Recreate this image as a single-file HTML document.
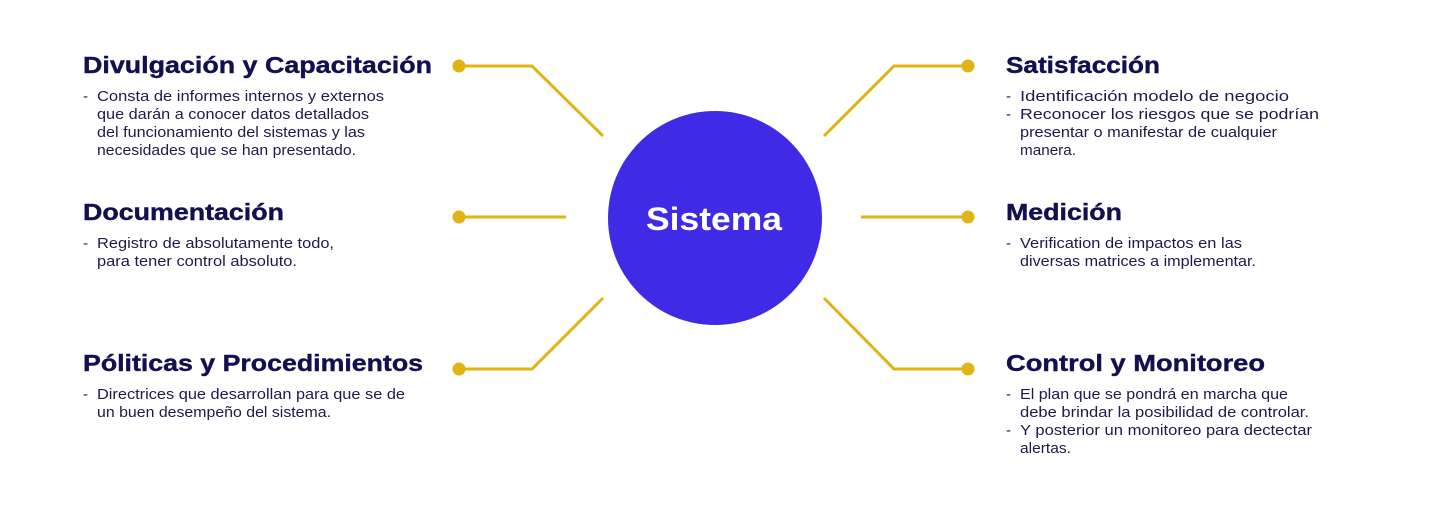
<!DOCTYPE html>
<html><head><meta charset="utf-8"><style>
html,body{margin:0;padding:0;background:#fff;}
svg{display:block}
.t{font-family:"Liberation Sans",sans-serif;font-weight:bold;font-size:23px;fill:#12104f;stroke:#12104f;stroke-width:0.4}
.b{font-family:"Liberation Sans",sans-serif;font-size:15px;fill:#1c1b4a}
</style></head><body>
<svg width="1444" height="512" viewBox="0 0 1444 512" xmlns="http://www.w3.org/2000/svg">
<g stroke="#e0b412" stroke-width="3" fill="none">
<polyline points="459,66 532,66 603,136"/>
<polyline points="459,217 566,217"/>
<polyline points="459,369 532,369 603,298"/>
<polyline points="968,66 894,66 824,136"/>
<polyline points="861,217 968,217"/>
<polyline points="824,298 894,369 968,369"/>
</g>
<g fill="#e0b412">
<circle cx="459" cy="66" r="6.5"/><circle cx="459" cy="217" r="6.5"/><circle cx="459" cy="369" r="6.5"/>
<circle cx="968" cy="66" r="6.5"/><circle cx="968" cy="217" r="6.5"/><circle cx="968" cy="369" r="6.5"/>
</g>
<circle cx="715" cy="218" r="107" fill="#3f2be6"/>
<text x="714" y="230" text-anchor="middle" font-family="Liberation Sans,sans-serif" font-weight="bold" font-size="32" fill="#fff" textLength="136" lengthAdjust="spacingAndGlyphs">Sistema</text>

<text class="t" x="83" y="73" textLength="349" lengthAdjust="spacingAndGlyphs">Divulgación y Capacitación</text>
<text class="b" x="83" y="101">-</text>
<text class="b" x="97" y="101" textLength="287" lengthAdjust="spacingAndGlyphs">Consta de informes internos y externos</text>
<text class="b" x="97" y="119" textLength="272" lengthAdjust="spacingAndGlyphs">que darán a conocer datos detallados</text>
<text class="b" x="97" y="137" textLength="268" lengthAdjust="spacingAndGlyphs">del funcionamiento del sistemas y las</text>
<text class="b" x="97" y="155" textLength="259" lengthAdjust="spacingAndGlyphs">necesidades que se han presentado.</text>

<text class="t" x="83" y="220" textLength="201" lengthAdjust="spacingAndGlyphs">Documentación</text>
<text class="b" x="83" y="248">-</text>
<text class="b" x="97" y="248" textLength="237" lengthAdjust="spacingAndGlyphs">Registro de absolutamente todo,</text>
<text class="b" x="97" y="266" textLength="200" lengthAdjust="spacingAndGlyphs">para tener control absoluto.</text>

<text class="t" x="83" y="371" textLength="340" lengthAdjust="spacingAndGlyphs">Póliticas y Procedimientos</text>
<text class="b" x="83" y="399">-</text>
<text class="b" x="97" y="399" textLength="308" lengthAdjust="spacingAndGlyphs">Directrices que desarrollan  para que se de</text>
<text class="b" x="97" y="417" textLength="234" lengthAdjust="spacingAndGlyphs">un buen desempeño del sistema.</text>

<text class="t" x="1006" y="73" textLength="154" lengthAdjust="spacingAndGlyphs">Satisfacción</text>
<text class="b" x="1006" y="101">-</text>
<text class="b" x="1020" y="101" textLength="269" lengthAdjust="spacingAndGlyphs">Identificación modelo de negocio</text>
<text class="b" x="1006" y="119">-</text>
<text class="b" x="1020" y="119" textLength="299" lengthAdjust="spacingAndGlyphs">Reconocer los riesgos que se podrían</text>
<text class="b" x="1020" y="137" textLength="257" lengthAdjust="spacingAndGlyphs">presentar o manifestar de cualquier</text>
<text class="b" x="1020" y="155" textLength="56" lengthAdjust="spacingAndGlyphs">manera.</text>

<text class="t" x="1006" y="220" textLength="116" lengthAdjust="spacingAndGlyphs">Medición</text>
<text class="b" x="1006" y="248">-</text>
<text class="b" x="1020" y="248" textLength="222" lengthAdjust="spacingAndGlyphs">Verification de impactos en las</text>
<text class="b" x="1020" y="266" textLength="236" lengthAdjust="spacingAndGlyphs">diversas matrices a implementar.</text>

<text class="t" x="1006" y="371" textLength="259" lengthAdjust="spacingAndGlyphs">Control y Monitoreo</text>
<text class="b" x="1006" y="399">-</text>
<text class="b" x="1020" y="399" textLength="268" lengthAdjust="spacingAndGlyphs">El plan que se pondrá en marcha que</text>
<text class="b" x="1020" y="417" textLength="289" lengthAdjust="spacingAndGlyphs">debe brindar la posibilidad de controlar.</text>
<text class="b" x="1006" y="435">-</text>
<text class="b" x="1020" y="435" textLength="292" lengthAdjust="spacingAndGlyphs">Y posterior un monitoreo para dectectar</text>
<text class="b" x="1020" y="453" textLength="51" lengthAdjust="spacingAndGlyphs">alertas.</text>
</svg>
</body></html>
